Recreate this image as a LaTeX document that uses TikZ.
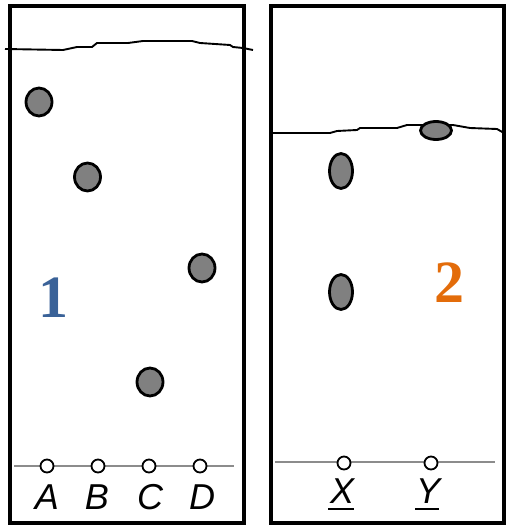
\documentclass[tikz,border=0pt]{standalone}
\usepackage{fontspec}
\setmainfont{Liberation Serif}
\setsansfont{Liberation Sans}
\usetikzlibrary{shapes.geometric}
\definecolor{numblue}{HTML}{3A6298}
\definecolor{numorange}{HTML}{E36C0A}
\definecolor{spotgray}{HTML}{808080}
\definecolor{basegray}{HTML}{8C8C8C}
\begin{document}
\begin{tikzpicture}[x=1pt,y=-1pt,
  plate/.style={draw=black,line width=3.6pt},
  front/.style={draw=black,line width=1.9pt,line join=round},
  baseline/.style={draw=basegray,line width=2.6pt},
  spot/.style={ellipse,draw=black,fill=spotgray,line width=2.8pt,inner sep=0pt},
  origin/.style={circle,draw=black,fill=white,line width=1.8pt,minimum size=13pt,inner sep=0pt},
  lab/.style={font=\sffamily\itshape\fontsize{36}{36}\selectfont,inner sep=0pt},
  num/.style={font=\bfseries\fontsize{60}{60}\selectfont,inner sep=0pt}]
\useasboundingbox (0,0) rectangle (509,526);
% plates
\draw[plate] (10,6) rectangle (244,523);
\draw[plate] (271,6) rectangle (504,523);
% solvent fronts
\draw[front] (5,49) -- (63,50) -- (77,47) -- (92,47) -- (97,43) -- (128,43) -- (143,41) -- (192,41) -- (200,43) -- (230,45) -- (233,47) -- (243,48) -- (253,50);
\draw[front] (271,133) -- (330,133) -- (337,131) -- (357,130) -- (360,128) -- (397,128) -- (407,125) -- (453,125) -- (470,128) -- (497,129) -- (504,133);
% baselines
\draw[baseline] (14,466) -- (234,466);
\draw[baseline] (275,462) -- (495,462);
% origins
\node[origin] (oA) at (47,466) {};
\node[origin] (oB) at (98,466) {};
\node[origin] (oC) at (149,466) {};
\node[origin] (oD) at (200,466) {};
\node[origin] (oX) at (344,463) {};
\node[origin] (oY) at (431,463) {};
% spots
\node[spot,minimum width=26pt,minimum height=28pt] (sA) at (39,102) {};
\node[spot,minimum width=26pt,minimum height=28pt] (sB) at (87.5,177) {};
\node[spot,minimum width=26pt,minimum height=28pt] (sC) at (150,382) {};
\node[spot,minimum width=26pt,minimum height=28pt] (sD) at (202,268) {};
\node[spot,minimum width=23pt,minimum height=35pt] (sX1) at (341,171) {};
\node[spot,minimum width=23pt,minimum height=35pt] (sX2) at (341,292) {};
\node[spot,minimum width=31pt,minimum height=18pt] (sY) at (436,130.5) {};
% labels
\node[lab] (lA) at (47,497) {A};
\node[lab] (lB) at (97,497) {B};
\node[lab] (lC) at (150,497) {C};
\node[lab] (lD) at (202,497) {D};
\node[lab] (lX) at (342,491) {X};
\node[lab] (lY) at (428,491) {Y};
\draw[line width=1.8pt] (328,509) -- (354,509);
\draw[line width=1.8pt] (415,509) -- (439,509);
% numbers
\node[num,text=numblue] (n1) at (53,298) {1};
\node[num,text=numorange] (n2) at (449,283) {2};
\end{tikzpicture}
\end{document}
